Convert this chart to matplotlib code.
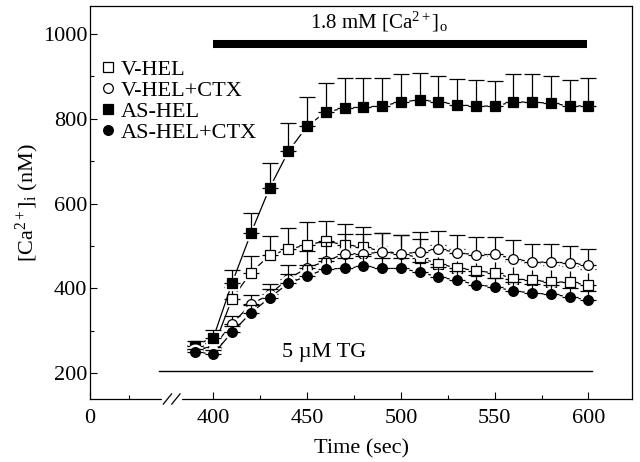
import matplotlib as mpl
import matplotlib.pyplot as plt
import matplotlib.transforms as mtransforms
import numpy as np

mpl.rcParams['font.family'] = 'Liberation Serif'
mpl.rcParams['font.size'] = 16
mpl.rcParams['mathtext.fontset'] = 'custom'
mpl.rcParams['mathtext.rm'] = 'Liberation Serif'
mpl.rcParams['mathtext.it'] = 'Liberation Serif:italic'
mpl.rcParams['mathtext.default'] = 'regular'

time = [390, 400, 410, 420, 430, 440, 450, 460, 470, 480, 490,
        500, 510, 520, 530, 540, 550, 560, 570, 580, 590, 600]

v_hel = [258, 260, 376, 437, 478, 492, 503, 511, 503, 497, 488,
         482, 472, 458, 448, 442, 436, 423, 419, 415, 415, 407]
v_hel_err = [8, 12, 27, 39, 45, 50, 53, 49, 48, 47, 43,
             43, 45, 45, 45, 42, 40, 42, 40, 40, 38, 38]

v_hel_ctx = [255, 262, 317, 362, 386, 423, 448, 464, 482, 482, 485,
             482, 485, 493, 484, 479, 480, 470, 462, 462, 460, 454]
v_hel_ctx_err = [8, 10, 18, 23, 25, 33, 41, 45, 47, 47, 45,
                 45, 47, 43, 41, 42, 42, 43, 42, 42, 40, 39]

as_hel = [265, 284, 413, 530, 637, 723, 783, 816, 825, 828, 830,
          840, 844, 840, 833, 830, 830, 840, 839, 837, 830, 831]
as_hel_err = [10, 17, 31, 47, 59, 66, 69, 69, 70, 67, 65,
              65, 63, 61, 60, 62, 59, 65, 66, 64, 62, 65]

as_hel_ctx = [250, 245, 297, 342, 378, 412, 429, 446, 447, 452, 447,
              447, 438, 427, 419, 409, 403, 394, 389, 386, 380, 372]
as_hel_ctx_err = [8, 10, 15, 18, 20, 22, 25, 25, 25, 25, 25,
                  25, 23, 23, 23, 22, 22, 22, 22, 22, 22, 22]

labels = ['V-HEL', 'V-HEL+CTX', 'AS-HEL', 'AS-HEL+CTX']
x_ticks = [400, 450, 500, 550, 600]
y_ticks = [200, 400, 600, 800, 1000]

# position on the axis where "0" is drawn (axis is broken before 400)
x_zero = 334.2

fig = plt.figure(figsize=(6.4, 4.62), dpi=100)
ax = fig.add_axes([90 / 640, 63 / 462, 542 / 640, 393 / 462])

series = [
    (v_hel, v_hel_err, 's', 'white', 6.5),
    (v_hel_ctx, v_hel_ctx_err, 'o', 'white', 7),
    (as_hel, as_hel_err, 's', 'black', 6.5),
    (as_hel_ctx, as_hel_ctx_err, 'o', 'black', 7),
]

for i, (vals, err, mk, fc, ms) in enumerate(series):
    z = 3 + i
    ax.plot(time, vals, color='k', lw=0.9, zorder=z)
    # white halo so the line stops short of the symbol
    ax.plot(time, vals, ls='none', marker=mk, ms=ms + 3.5, mfc='white',
            mec='white', zorder=z + 0.1)
    ax.errorbar(time, vals, yerr=[np.zeros(len(err)), err], fmt='none',
                ecolor='k', elinewidth=0.9, capsize=5.5, capthick=0.9,
                zorder=z + 0.2)
    ax.plot(time, vals, ls='none', marker=mk, ms=ms, mfc=fc, mec='k',
            mew=0.9, label=labels[i], zorder=z + 0.3)

# treatment bars
ax.plot([400, 599], [976, 976], color='k', lw=5.8, solid_capstyle='butt')
ax.text(488, 1029, '1.8 mM [Ca$^{2+}$]$_o$', ha='center', va='center',
        fontsize=15)
ax.plot([371, 602], [205, 205], color='k', lw=1.0)
ax.text(459, 248, '5 \u00b5M TG', ha='center', va='center', fontsize=16)

ax.set_xlim(x_zero, 623.2)
ax.set_ylim(139, 1066)
ax.set_xticks([x_zero] + x_ticks)
ax.set_xticklabels(['0'] + [str(t) for t in x_ticks])
ax.set_xticks([x_zero + 21, 425, 475, 525, 575], minor=True)
ax.set_yticks(y_ticks)
ax.set_yticks([300, 500, 700, 900], minor=True)
ax.tick_params(which='both', direction='in', top=False, right=False,
               labelsize=16, width=0.8)
ax.tick_params(axis='y', pad=2)
ax.tick_params(axis='x', pad=7)
ax.tick_params(which='major', length=5)
ax.tick_params(which='minor', length=3)
for sp in ax.spines.values():
    sp.set_linewidth(0.9)

# axis break marks
trans = mtransforms.blended_transform_factory(ax.transData, ax.transAxes)
ax.plot([373.5, 382], [0, 0], color='white', lw=3, transform=trans,
        clip_on=False, zorder=10)
for xb in [375.5, 380]:
    ax.plot([xb - 2.2, xb + 2.2], [-0.013, 0.013], color='k', lw=0.9,
            transform=trans, clip_on=False, zorder=11)

ax.set_xlabel('Time (sec)', fontsize=16, labelpad=8)
ax.set_ylabel('[Ca$^{2+}$]$_i$ (nM)', fontsize=16, labelpad=1)

ax.legend(loc='upper left', bbox_to_anchor=(0.0, 0.886), frameon=False,
          handlelength=0.8, handletextpad=0.2, labelspacing=0.02,
          borderaxespad=0.0, fontsize=16)

fig.savefig('out.png', dpi=100)
